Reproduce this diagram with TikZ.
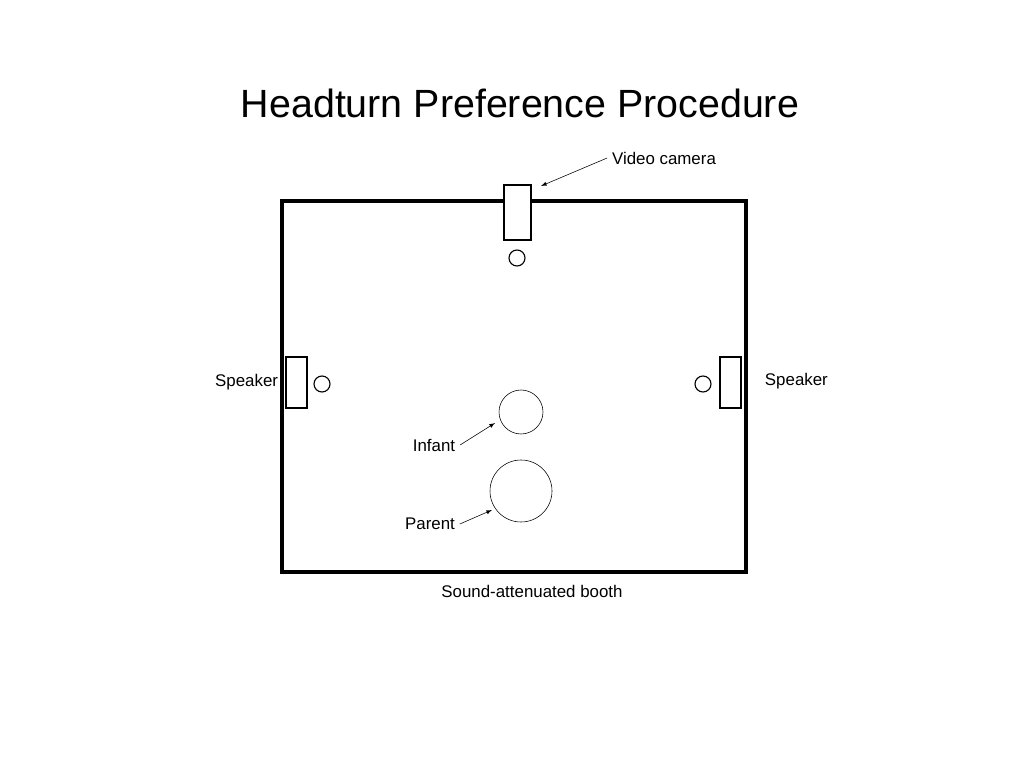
\documentclass[tikz,border=0pt]{standalone}
\usepackage{fontspec}
\setmainfont{Liberation Sans}
\usetikzlibrary{positioning}

\tikzset{
	label text/.style = {font=\fontsize{12}{14}\selectfont},
	pointer/.style = {-latex, thin},
	device/.style = {draw, thick, fill=white}
}

\begin{document}
\begin{tikzpicture}[x=0.025cm, y=-0.025cm]
\useasboundingbox[fill=white] (0, 0) rectangle (1024, 768);

\node[font=\fontsize{28}{32}\selectfont] (title) at (520, 103) {Headturn Preference Procedure};

% booth
\draw[line width=2.2pt] (282, 201) rectangle (746, 572);
\coordinate (boothbase) at (532, 580);
\node[label text, below=0pt of boothbase] (booth) {Sound-attenuated booth};

% camera and speakers
\draw[device] (504, 185) rectangle (531, 240);
\coordinate (cam) at (541, 186);
\draw[thick] (517, 258) circle (8);
\draw[device] (286, 357) rectangle (307, 408);
\draw[thick] (322, 384) circle (8);
\draw[device] (720, 357) rectangle (741, 408);
\draw[thick] (703, 384) circle (8);

\node[label text] (cameralabel) at (664, 158) {Video camera};
\draw[pointer] (cameralabel.west) -- (cam);
\node[label text, anchor=east] (speakerL) at (283, 382) {Speaker};
\node[label text, anchor=west] (speakerR) at (760, 381) {Speaker};

% infant and parent
\draw (521, 412) circle (22);
\coordinate (infant) at (495, 423);
\draw (521, 491) circle (31);
\coordinate (parent) at (492, 510);

\node[label text] (infantlabel) at (434, 445) {Infant};
\draw[pointer] (infantlabel.east) -- (infant);
\node[label text] (parentlabel) at (430, 524) {Parent};
\draw[pointer] (parentlabel.east) -- (parent);

\end{tikzpicture}
\end{document}
